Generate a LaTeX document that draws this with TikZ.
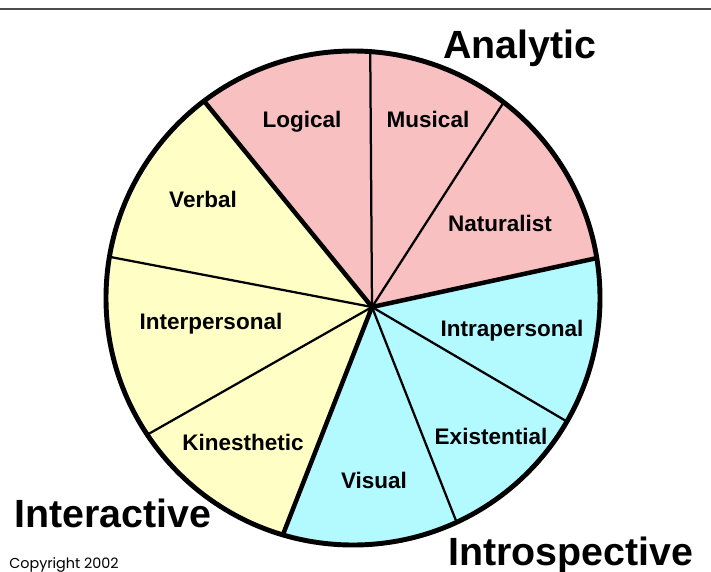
\documentclass[tikz,border=0pt]{standalone}
\usepackage{fontspec}
\setmainfont{Liberation Sans}
\newfontfamily\copyfont{Poppins}
\usetikzlibrary{calc}
\definecolor{analyticpink}{RGB}{248,192,192}
\definecolor{interyellow}{RGB}{255,255,197}
\definecolor{introcyan}{RGB}{178,250,255}
\tikzset{
  wedge label/.style={anchor=base, font=\fontsize{16}{19}\selectfont\bfseries},
  group title/.style={anchor=base, font=\fontsize{28}{33}\selectfont\bfseries},
  thick spoke/.style={line width=3.2pt},
  thin spoke/.style={line width=1.6pt},
}
\begin{document}
\begin{tikzpicture}[x=0.025cm, y=0.025cm]
\useasboundingbox (0,0) rectangle (711,-572);
\draw[line width=1.4pt, black!70] (0,-9) -- (711,-9);
% centre of the circle, and where the spokes meet
\coordinate (c) at (353,-298);
\coordinate (hub) at (372,-307);
\foreach \n/\a in {1/127.1, 2/86.0, 3/52.4, 4/9.3, 5/-30.0, 6/-65.2, 7/-106.5, 8/-146.4, 9/-189.6}
  \coordinate (p\n) at ($(c)+(\a:247)$);
% the three groups
\fill[analyticpink] (hub) -- (p4) arc[start angle=9.3, end angle=127.1, radius=247] -- cycle;
\fill[introcyan] (hub) -- (p7) arc[start angle=-106.5, end angle=9.3, radius=247] -- cycle;
\fill[interyellow] (hub) -- (p1) arc[start angle=127.1, end angle=253.5, radius=247] -- cycle;
% spokes
\foreach \n in {2,3,5,6,8,9}
  \draw[thin spoke] (hub) -- (p\n);
\foreach \n in {1,4,7}
  \draw[thick spoke] (hub) -- (p\n);
\draw[line width=3.5pt] (c) circle (247);
% intelligences
\foreach \name/\x/\y in {Logical/302/127, Musical/428/127, Naturalist/500/231,
    Verbal/203/207, Interpersonal/211/329, Kinesthetic/243/450,
    Visual/374/488, Existential/491/444, Intrapersonal/512/336}
  \node[wedge label] (\name) at (\x,-\y) {\name};
% group names
\node[group title] (analytic) at (520,-58) {Analytic};
\node[group title] (interactive) at (113,-527) {Interactive};
\node[group title] (introspective) at (571,-565) {Introspective};
\node[anchor=base, font=\copyfont\fontsize{10.2}{12}\selectfont] (copyright) at (64,-568) {Copyright 2002};
\end{tikzpicture}
\end{document}
